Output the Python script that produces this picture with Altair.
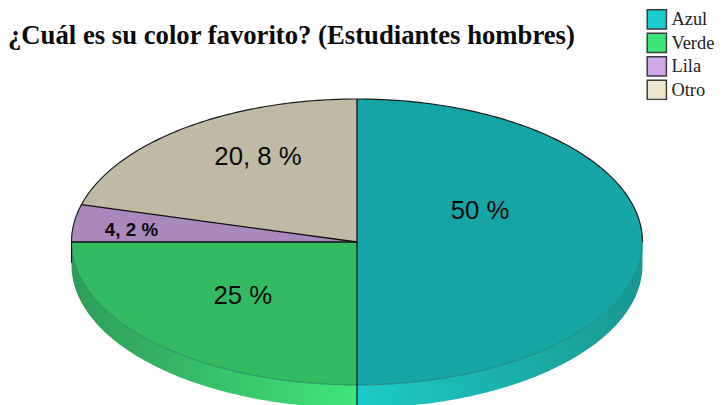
import math
import altair as alt
import pandas as pd

# --- chart values ---
categories = ["Azul", "Verde", "Lila", "Otro"]
shares = [50.0, 25.0, 4.2, 20.8]
legend_colors = ["#1ACCCC", "#40E57A", "#D0A8E8", "#EDE5CC"]
label_texts = ["50 %", "25 %", "4, 2 %", "20, 8 %"]
label_x = [0.431, -0.40, -0.79, -0.347]
label_y = [0.217, -0.377, 0.083, 0.594]
label_sizes = [26.3, 26.3, 19.2, 26.3]
label_weights = ["normal", "normal", "bold", "normal"]
title_text = "¿Cuál es su color favorito? (Estudiantes hombres)"

# --- layout: the page fits the 723 px wide svg into 707 px, uniformly ---
W, TOP, SVG_H = 723, 55, 410
H = SVG_H - TOP
K = 707 / W
OFF_Y = 8 + SVG_H * (1 - K) / 2
CX = (357 - 8) / K
CY = (242 - OFF_Y) / K - TOP
RX, RY = 285.5 / K, 143 / K
DEPTH = 23 / 143

x_scale = alt.Scale(domain=[-CX / RX, (W - CX) / RX], range=[0, W], nice=False, zero=False)
y_scale = alt.Scale(domain=[-(H - CY) / RY, CY / RY], range=[H, 0], nice=False, zero=False)
X = alt.X("x:Q", scale=x_scale, axis=None)
Y = alt.Y("y:Q", scale=y_scale, axis=None)

N = 180
def rim(x):
    return math.sqrt(max(0.0, 1 - x * x))
def xs(t0, t1):
    """x positions between two angles, denser towards the edge."""
    return [math.sin(math.radians(t0 + (t1 - t0) * i / N)) for i in range(N + 1)]

# cumulative boundary angles, clockwise from 12 o'clock
bounds = [0.0]
for s in shares:
    bounds.append(bounds[-1] + s * 3.6)
a_lila_top = bounds[3]
xb = math.sin(math.radians(a_lila_top))
slope = math.cos(math.radians(a_lila_top)) / xb

rows = []
for x in sorted(set(xs(0, 90))):
    rows.append(dict(cat="Azul", x=x, y=rim(x), y2=-rim(x)))
for x in sorted(set(xs(-90, 0))):
    rows.append(dict(cat="Verde", x=x, y=0.0, y2=-rim(x)))
for x in sorted(set(xs(-90, math.degrees(math.asin(xb))))):
    rows.append(dict(cat="Lila", x=x, y=rim(x), y2=0.0))
for x in sorted(set(xs(math.degrees(math.asin(xb)), 0))):
    rows.append(dict(cat="Lila", x=x, y=slope * x, y2=0.0))
    rows.append(dict(cat="Otro", x=x, y=rim(x), y2=slope * x))
top_df = pd.DataFrame(rows)

ellipse_df = pd.DataFrame([dict(x=x, y=rim(x), y2=-rim(x)) for x in sorted(set(xs(-90, 90)))])
upper_df = ellipse_df[["x", "y"]]
lower_df = pd.DataFrame(dict(x=ellipse_df.x, y=ellipse_df.y2))

wall_r = pd.DataFrame([dict(x=x, y=-rim(x), y2=-rim(x) - DEPTH) for x in sorted(set(xs(0, 90)))])
wall_l = pd.DataFrame([dict(x=x, y=-rim(x), y2=-rim(x) - DEPTH) for x in sorted(set(xs(-90, 0)))])

def grad(a, b):
    return alt.LinearGradient(gradient="linear", x1=0, x2=1, y1=0, y2=0,
                              stops=[alt.GradientStop(color=a, offset=0),
                                     alt.GradientStop(color=b, offset=1)])

walls = [
    alt.Chart(wall_r).mark_area(orient="vertical", color=grad("#1CCBC8", "#189890")).encode(x=X, y=Y, y2="y2:Q"),
    alt.Chart(wall_l).mark_area(orient="vertical", color=grad("#2F9C5A", "#40E57A")).encode(x=X, y=Y, y2="y2:Q"),
]

top = alt.Chart(top_df).mark_area(orient="vertical").encode(
    x=X, y=Y, y2="y2:Q",
    color=alt.Color("cat:N",
        scale=alt.Scale(domain=categories, range=legend_colors),
        legend=alt.Legend(title=None, orient="none", legendX=652.5, legendY=-59,
                          symbolType="square", symbolSize=385, symbolStrokeColor="#3a3a3a",
                          symbolStrokeWidth=1.5, symbolOpacity=1,
                          labelFont="Liberation Serif", labelFontSize=18.8, labelColor="#222222",
                          labelOffset=4, rowPadding=-2.6, padding=0)),
)
shade = alt.Chart(ellipse_df).mark_area(orient="vertical", color="#000000", opacity=0.19).encode(x=X, y=Y, y2="y2:Q")

ray_df = pd.DataFrame([
    dict(ray="a", x=0.0, y=1.0), dict(ray="a", x=0.0, y=-1.0),
    dict(ray="b", x=-1.0, y=0.0), dict(ray="b", x=0.0, y=0.0),
    dict(ray="c", x=xb, y=slope * xb), dict(ray="c", x=0.0, y=0.0),
])
rays = alt.Chart(ray_df).mark_line(color="#101010", strokeWidth=1.3).encode(x=X, y=Y, detail="ray:N")

upper = alt.Chart(upper_df).mark_line(color="#1a1a1a", strokeWidth=1.2).encode(x=X, y=Y)
lower = alt.Chart(lower_df).mark_line(color="#0b5c55", strokeWidth=1, opacity=0.55).encode(x=X, y=Y)

drop_df = pd.DataFrame([dict(x=0.0, y=-1.0, y2=-1.0 - DEPTH), dict(x=-1.0, y=0.0, y2=-DEPTH * 0.9)])
drops = alt.Chart(drop_df).mark_rule(color="#101820", strokeWidth=1.2).encode(x=X, y=Y, y2="y2:Q")

label_df = pd.DataFrame(dict(x=label_x, y=label_y, t=label_texts, s=label_sizes, w=label_weights))
labels = [
    alt.Chart(label_df[label_df.t == t]).mark_text(font="Liberation Sans", fontSize=s, fontWeight=w, color="#0a0a0a").encode(x=X, y=Y, text="t:N")
    for t, s, w in zip(label_texts, label_sizes, label_weights)
]

chart = alt.layer(*walls, top, shade, lower, upper, rays, drops, *labels).properties(
    width=W, height=H,
    padding={"left": 0, "top": TOP, "right": 0, "bottom": 0},
    autosize=alt.AutoSizeParams(type="none"),
    title=alt.TitleParams(title_text, anchor="start", font="Liberation Serif", fontSize=27.3,
                          fontWeight="bold", color="#0a0a0a", offset=-41.3, frame="group"),
).configure_view(stroke=None)

chart.save("out.html", embed_options={"renderer": "svg", "actions": False})
